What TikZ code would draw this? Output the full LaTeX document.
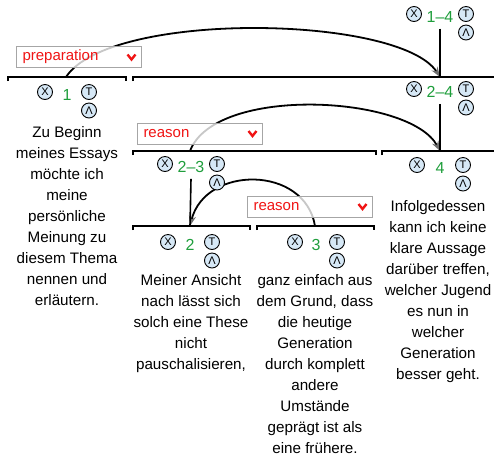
\documentclass[tikz,border=0pt]{standalone}
\usepackage{fontspec}
\setmainfont{Liberation Sans}
\usetikzlibrary{arrows.meta,calc,positioning}
\definecolor{spangreen}{HTML}{1F9E3C}
\definecolor{iconfill}{HTML}{D6E8F6}
\definecolor{relred}{HTML}{F01414}
\definecolor{relborder}{HTML}{A6A6A6}
\definecolor{tipgray}{HTML}{6E6E6E}
\newcommand{\spanicons}[2]{%
  \node[icon] (#1x) at ([xshift=-#2pt,yshift=3pt]#1.center) {X};
  \node[icon] (#1t) at ([xshift=#2pt,yshift=3pt]#1.center) {T};
  \node[icon] (#1l) at ([xshift=#2pt,yshift=-15.5pt]#1.center) {Λ};
}

\begin{document}
\begin{tikzpicture}[
  x=1pt,
  y=-1pt,
  font=\fontsize{15.2}{21}\selectfont,
  seg/.style={align=center, inner sep=0pt, anchor=north},
  spanlab/.style={text=spangreen, inner xsep=2pt, inner ysep=6pt,
    font=\fontsize{16}{18}\selectfont},
  icon/.style={circle, draw=black, line width=0.9pt, fill=iconfill,
    minimum size=15pt, inner sep=0pt, font=\fontsize{11}{11}\selectfont},
  bar/.style={line width=2.6pt, line join=miter},
  stem/.style={line width=1.6pt},
  rel/.style={draw=relborder, line width=1pt, fill=white, fill opacity=0.78,
    text opacity=1, text=relred, minimum width=125pt, minimum height=21pt,
    text width=112pt, align=left, inner xsep=6.5pt,
    font=\fontsize{15}{18}\selectfont},
  chev/.style={draw=relred, line width=2.4pt},
  link/.style={line width=1.8pt, -{Stealth[length=10pt,width=7pt,color=tipgray]}}
]
\useasboundingbox (0,0) rectangle (494,459);

% Joints on the bars
\coordinate (o1) at (66,77);
\coordinate (j14) at (440,77);
\coordinate (o23) at (190,151);
\coordinate (j24) at (440,151);
\coordinate (o3) at (315,226);
\coordinate (j23) at (190,226);

% Relation arcs (drawn first, boxes sit over them)
\draw[link] (o1) .. controls (110,10) and (400,15) .. (j14);
\draw[link] (o23) .. controls (215,85) and (410,95) .. (j24);
\draw[link] (o3) .. controls (305,165) and (205,165) .. (j23);

% Relation labels
\node[rel] (r1) at (78.5,57) {preparation};
\draw[chev] ([xshift=-14pt,yshift=2.5pt]r1.east) -- ++(4pt,-5pt) -- ++(4pt,5pt);
\node[rel] (r2) at (199.5,133.5) {reason};
\draw[chev] ([xshift=-14pt,yshift=2.5pt]r2.east) -- ++(4pt,-5pt) -- ++(4pt,5pt);
\node[rel] (r3) at (309.5,206.5) {reason};
\draw[chev] ([xshift=-14pt,yshift=2.5pt]r3.east) -- ++(4pt,-5pt) -- ++(4pt,5pt);

% Span bars
\draw[bar] (8,81) -- (8,77) -- (126,77) -- (126,81);
\draw[bar] (133,81) -- (133,77) -- (500,77);
\draw[bar] (133,155) -- (133,151) -- (376,151) -- (376,155);
\draw[bar] (382,155) -- (382,151) -- (500,151);
\draw[bar] (133,230) -- (133,226) -- (250,226) -- (250,230);
\draw[bar] (257,230) -- (257,226) -- (374,226) -- (374,230);

% Span numbers with their icons
\node[spanlab] (s14) at (440,17) {1–4};
\node[spanlab] (s1) at (67,95) {1};
\node[spanlab] (s24) at (440,92) {2–4};
\node[spanlab] (s23) at (191,167) {2–3};
\node[spanlab] (s4) at (440,168) {4};
\node[spanlab] (s2) at (190,245) {2};
\node[spanlab] (s3) at (316,245) {3};
\spanicons{s14}{26}
\spanicons{s1}{22}
\spanicons{s24}{26}
\spanicons{s23}{26}
\spanicons{s4}{23}
\spanicons{s2}{22}
\spanicons{s3}{21}

\draw[stem] (s14.south) -- (j14);
\draw[stem] (s24.south) -- (j24);
\draw[stem] (s23.south) -- (j23);

% Segment texts
\node[seg] (t1) at (67,126) {Zu Beginn\\meines Essays\\möchte ich\\meine\\persönliche\\Meinung zu\\diesem Thema\\nennen und\\erläutern.};
\node[seg] (t2) at (191,274) {Meiner Ansicht\\nach lässt sich\\solch eine These\\nicht\\pauschalisieren,};
\node[seg] (t3) at (315,274) {ganz einfach aus\\dem Grund, dass\\die heutige\\Generation\\durch komplett\\andere\\Umstände\\geprägt ist als\\eine frühere.};
\node[seg] (t4) at (438,200) {Infolgedessen\\kann ich keine\\klare Aussage\\darüber treffen,\\welcher Jugend\\es nun in\\welcher\\Generation\\besser geht.};
\end{tikzpicture}
\end{document}
